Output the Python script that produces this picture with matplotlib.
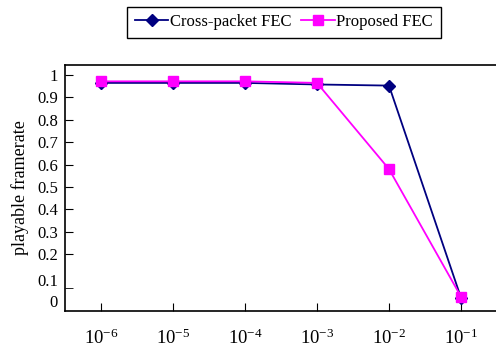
import numpy as np
import matplotlib
matplotlib.use("Agg")
import matplotlib.pyplot as plt

plt.rcParams['font.family'] = ['Liberation Serif', 'DejaVu Serif']
plt.rcParams['mathtext.default'] = 'regular'

# data
error_rates = [r'10$^{-6}$', r'10$^{-5}$', r'10$^{-4}$', r'10$^{-3}$', r'10$^{-2}$', r'10$^{-1}$']
cross_packet = [0.965, 0.965, 0.965, 0.958, 0.953, 0.005]
proposed = [0.972, 0.972, 0.972, 0.965, 0.58, 0.01]

# odd y labels of the original chart
ytick_pos = [-0.01, 0.085, 0.2, 0.3, 0.4, 0.5, 0.6, 0.7, 0.8, 0.9, 1.0]
ytick_lab = ['0', '0.1', '0.2', '0.3', '0.4', '0.5', '0.6', '0.7', '0.8', '0.9', '1']

fig = plt.figure(figsize=(4.96, 3.51), dpi=100)
ax = fig.add_axes([65 / 496, 40 / 351, 432 / 496, 246 / 351])

x = np.arange(len(error_rates))
ax.plot(x, cross_packet, color='#000080', lw=1.3, marker='D', ms=6,
        label='Cross-packet FEC')
ax.plot(x, proposed, color='#FF00FF', lw=1.3, marker='s', ms=6.5,
        label='Proposed FEC')

ax.set_xlim(-0.5, 5.5)
ax.set_ylim(-0.054, 1.045)
ax.set_xticks(x)
ax.set_xticklabels(error_rates, fontsize=13.5)
ax.set_yticks(ytick_pos)
ax.set_yticklabels(ytick_lab, fontsize=12)
ax.set_yticks([0.049], minor=True)
for t in ax.yaxis.get_major_ticks()[:2]:
    t.tick1line.set_visible(False)

ax.tick_params(axis='x', direction='in', length=6, pad=13)
ax.tick_params(axis='y', direction='in', length=6, pad=5)
ax.tick_params(axis='y', which='minor', direction='in', length=6)
ax.spines['right'].set_visible(False)
for s in ['left', 'bottom', 'top']:
    ax.spines[s].set_linewidth(1.2)

ax.set_ylabel('playable framerate', fontsize=13, labelpad=6)

fig.legend(loc='center', bbox_to_anchor=(284 / 496, 1 - 22 / 351), ncol=2,
           fontsize=12, frameon=True, fancybox=False, edgecolor='black',
           handlelength=2.0, columnspacing=0.6, handletextpad=0.1,
           borderpad=0.45, framealpha=1)

fig.savefig('out.png', dpi=100)
